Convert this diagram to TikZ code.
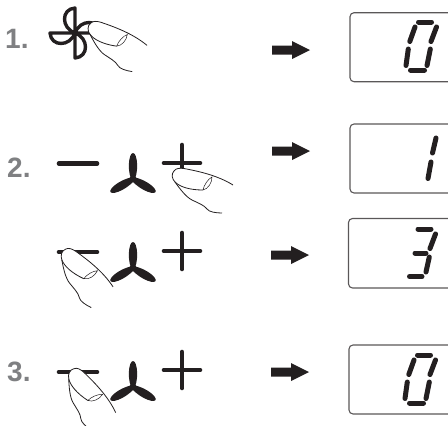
\documentclass[tikz,border=0pt]{standalone}
\usepackage{fontspec}
\setmainfont{Liberation Sans}
\definecolor{ink}{HTML}{231F20}
\definecolor{numgray}{HTML}{7F8082}
\begin{document}
\begin{tikzpicture}[
  x=1pt, y=-1pt,
  numlabel/.style={anchor=base west, inner sep=0pt, text=numgray, font=\fontsize{28}{28}\selectfont\bfseries},
  readout/.style={draw=ink!75, line width=1.1pt, rounded corners=4pt},
  seg/.style={draw=ink, line width=5pt, line cap=round},
  bar/.style={draw=ink, line width=4.6pt, line cap=round},
  blockarr/.style={fill=ink},
  thin line/.style={draw=ink, line width=0.8pt},
  digitzero/.pic={
    \draw[seg] (13.5,0) -- (26.5,0);
    \draw[seg] (10,5) -- (4.8,19.5);
    \draw[seg] (3.3,27) -- (1,43.5);
    \draw[seg] (31.5,5) -- (26,19.5);
    \draw[seg] (25.3,27) -- (22,43.5);
    \draw[seg] (5.5,48) -- (19.5,48);
  },
  digitone/.pic={
    \draw[seg] (31,5) -- (27.5,20);
    \draw[seg] (26,29) -- (23,45.5);
  },
  digitthree/.pic={
    \draw[seg] (14,0) -- (27,0);
    \draw[seg] (31.5,5) -- (26,19.5);
    \draw[seg] (11,24) -- (22,24);
    \draw[seg] (25.3,28) -- (22,43);
    \draw[seg] (5.5,47.5) -- (18,47.5);
  },
  finger/.pic={
    \fill[white] (3,7) .. controls (0,4) and (-1,-1) .. (2,-4) .. controls (4,-7) and (8,-7) .. (12,-6.5)
      .. controls (25,-4) and (45,0) .. (61,10) -- (50,38)
      .. controls (44,38) and (37,37) .. (35,34) .. controls (32,30) and (26,28) .. (20,25)
      .. controls (14,22) and (8,14) .. (3,7);
    \draw[thin line] (3,7) .. controls (0,4) and (-1,-1) .. (2,-4) .. controls (4,-7) and (8,-7) .. (12,-6.5)
      .. controls (25,-4) and (45,0) .. (61,10);
    \draw[thin line] (3,7) .. controls (8,12) and (18,15) .. (31,15);
    \draw[draw=ink, line width=0.5pt] (31,15) .. controls (32,10) and (36,4) .. (40,2) .. controls (40,8) and (36,14) .. (31,15);
    \draw[thin line] (3,7) .. controls (8,14) and (14,22) .. (20,25) .. controls (26,28) and (32,30) .. (35,34)
      .. controls (37,37) and (44,38) .. (50,38);
  },
  propeller/.pic={
    \foreach \a in {0,120,240}
      \fill[ink, rotate=\a] (0,4) .. controls (-6.5,-6) and (-4.5,-26) .. (0,-26) .. controls (4.5,-26) and (6.5,-6) .. (0,4);
  },
  plusbar/.pic={
    \draw[bar] (-18,0) -- (18,0);
    \draw[bar] (0,-18) -- (0,18);
  }
]
\useasboundingbox (0,0) rectangle (448,426);
\clip (0,0) rectangle (448,426);
% step numbers
\node[numlabel] (num1) at (5,48) {1.};
\node[numlabel] (num2) at (7,177) {2.};
\node[numlabel] (num3) at (7,381) {3.};
% first row
\foreach \a in {0,90,180,270}
  \draw[ink, line width=3.4pt, line join=round, rotate around={\a:(75,33)}]
    (75,33) -- (75,8) .. controls (61,9) and (61,28) .. cycle;
\pic[rotate=-8] at (88,27) {finger};
% second row
\draw[bar] (59,163.5) -- (97,163.5);
\pic at (133,179) {propeller};
\pic at (182,163) {plusbar};
\pic at (172,175) {finger};
% third row
\draw[bar] (59,252) -- (97,252);
\pic at (133,268) {propeller};
\pic at (182,251) {plusbar};
\pic[rotate=-25] at (62,252) {finger};
% fourth row
\draw[bar] (59,372) -- (97,372);
\pic at (133,387) {propeller};
\pic at (182,370) {plusbar};
\pic[rotate=-33] at (70,371) {finger};
% arrows
\foreach \ax/\ay in {272/50,272/151,271/255,271/372}
  \fill[blockarr] (\ax,\ay-4.5) -- (\ax+20,\ay-4.5) -- (\ax+20,\ay-9) -- (\ax+38,\ay) -- (\ax+20,\ay+9) -- (\ax+20,\ay+4.5) -- (\ax,\ay+4.5) -- cycle;
% readouts
\draw[readout] (350,12.7) rectangle (470,81.7);
\draw[readout] (350,124) rectangle (470,193);
\draw[readout] (348.5,218.5) rectangle (470,288);
\draw[readout] (349,345) rectangle (470,414);
\pic at (405,22) {digitzero};
\pic at (405,133) {digitone};
\pic at (404,229) {digitthree};
\pic at (404,355) {digitzero};
\end{tikzpicture}
\end{document}
